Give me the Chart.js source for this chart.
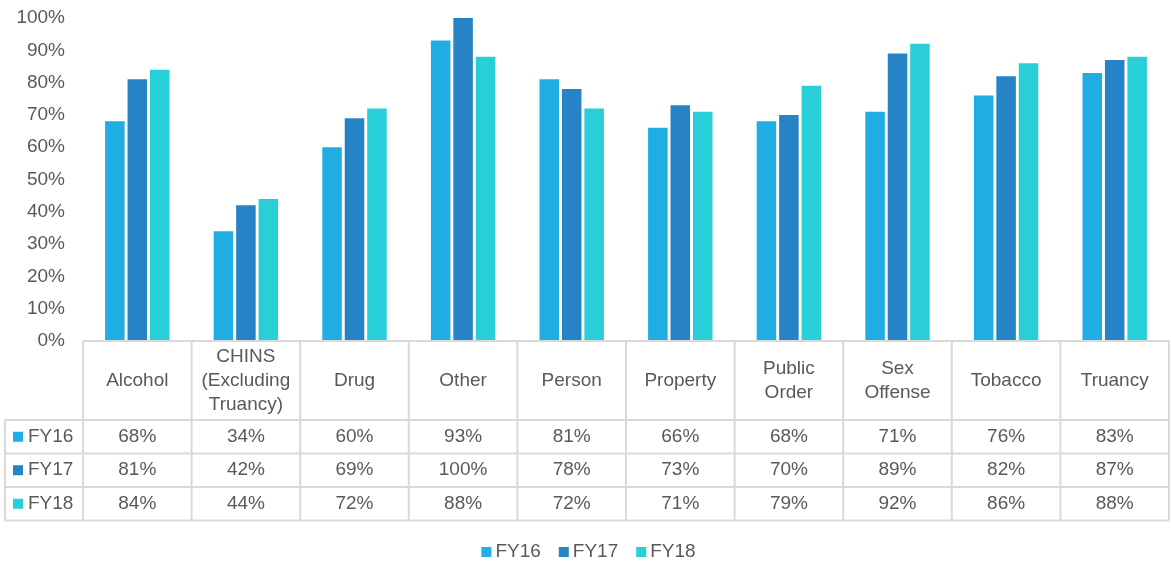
<!DOCTYPE html>
<html>
<head>
<meta charset="utf-8">
<script src="https://cdn.jsdelivr.net/npm/chart.js@4"></script>
<style>
	html, body { margin: 0; padding: 0; background: #fff; }
	#wrap { width: 1171px; height: 563px; }
</style>
</head>
<body>
<div id="wrap"><canvas id="chart"></canvas></div>
<script>
// ----- ----- -----
// data
// ----- ----- -----

const categories = ['Alcohol', ['CHINS', '(Excluding', 'Truancy)'], 'Drug', 'Other', 'Person', 'Property', ['Public', 'Order'], ['Sex', 'Offense'], 'Tobacco', 'Truancy'];
const seriesNames = ['FY16', 'FY17', 'FY18'];
const fy16 = [68, 34, 60, 93, 81, 66, 68, 71, 76, 83];
const fy17 = [81, 42, 69, 100, 78, 73, 70, 89, 82, 87];
const fy18 = [84, 44, 72, 88, 72, 71, 79, 92, 86, 88];
const yTicks = [0, 10, 20, 30, 40, 50, 60, 70, 80, 90, 100];

const colors = ['#1fade3', '#2683c6', '#29cfd8'];
const textColor = '#595959';
const lineColor = '#d9d9d9';
const fontFamily = '"Liberation Sans", Arial, sans-serif';

// ----- ----- -----
// data table under the plot + legend
// ----- ----- -----

const dataTable = {
	id: 'dataTable',
	afterDraw(chart) {
		const ctx = chart.ctx;
		const area = chart.chartArea;
		const xs = chart.scales.x;
		const w = (area.right - area.left) / categories.length;
		const top = area.bottom;
		const headerBottom = top + 79;
		const rowH = 33.5;
		const bottom = headerBottom + rowH * 3;
		const tableLeft = 5;
		const rows = [fy16, fy17, fy18];

		ctx.save();
		ctx.strokeStyle = lineColor;
		ctx.lineWidth = 2;
		ctx.beginPath();
		ctx.moveTo(area.left, top);
		ctx.lineTo(area.right, top);
		for (let r = 0; r <= 3; r++) {
			let y = headerBottom + rowH * r;
			ctx.moveTo(tableLeft, y);
			ctx.lineTo(area.right, y);
		}
		for (let i = 0; i <= categories.length; i++) {
			let x = area.left + w * i;
			ctx.moveTo(x, top);
			ctx.lineTo(x, bottom);
		}
		ctx.moveTo(tableLeft, headerBottom);
		ctx.lineTo(tableLeft, bottom);
		ctx.stroke();

		ctx.fillStyle = textColor;
		ctx.font = '19px ' + fontFamily;
		ctx.textAlign = 'center';
		ctx.textBaseline = 'middle';

		// category names
		categories.forEach((cat, i) => {
			let x = xs.getPixelForValue(i);
			let lines = Array.isArray(cat) ? cat : [cat];
			let midY = (top + headerBottom) / 2;
			lines.forEach((line, j) => {
				ctx.fillText(line, x, midY + (j - (lines.length - 1) / 2) * 24);
			});
		});

		// values
		rows.forEach((row, r) => {
			let y = headerBottom + rowH * r + rowH / 2;
			row.forEach((v, i) => {
				ctx.fillText(v + '%', xs.getPixelForValue(i), y);
			});
			ctx.fillStyle = colors[r];
			ctx.fillRect(13, y - 5, 10, 10);
			ctx.fillStyle = textColor;
			ctx.textAlign = 'left';
			ctx.fillText(seriesNames[r], 28, y);
			ctx.textAlign = 'center';
		});

		// legend
		ctx.textAlign = 'left';
		let widths = seriesNames.map(n => ctx.measureText(n).width);
		let total = widths.reduce((a, b) => a + b, 0) + seriesNames.length * 14 + (seriesNames.length - 1) * 18;
		let lx = chart.width / 2 - total / 2 + 3;
		let ly = 552;
		seriesNames.forEach((n, i) => {
			ctx.fillStyle = colors[i];
			ctx.fillRect(lx, ly - 5, 10, 10);
			ctx.fillStyle = textColor;
			ctx.fillText(n, lx + 14, ly);
			lx += 14 + widths[i] + 18;
		});
		ctx.restore();
	}
};

// ----- ----- -----
// chart js
// ----- ----- -----

const chart = new Chart('chart', {
	type: 'bar',
	data: {
		labels: categories,
		datasets: [fy16, fy17, fy18].map((values, i) => ({
			label: seriesNames[i],
			data: values,
			backgroundColor: colors[i],
			borderWidth: 0,
			categoryPercentage: 0.62,
			barPercentage: 0.87
		}))
	},
	options: {
		responsive: true,
		maintainAspectRatio: false,
		animation: false,
		layout: {
			padding: { top: 18, right: 2, bottom: 36, left: 0 }
		},
		scales: {
			x: {
				grid: { display: false },
				border: { display: false },
				ticks: { display: false },
				afterFit: (scale) => { scale.height = 186; }
			},
			y: {
				min: 0,
				max: 100,
				afterBuildTicks: (scale) => { scale.ticks = yTicks.map(v => ({ value: v })); },
				afterFit: (scale) => { scale.width = 83; scale.paddingTop = 0; scale.paddingBottom = 0; },
				grid: { display: false },
				border: { display: false },
				ticks: {
					color: textColor,
					padding: 10,
					font: { family: fontFamily, size: 19 },
					callback: (v) => v + '%'
				}
			}
		},
		plugins: {
			tooltip: { enabled: false },
			legend: { display: false }
		}
	},
	plugins: [dataTable]
});
</script>
</body>
</html>
